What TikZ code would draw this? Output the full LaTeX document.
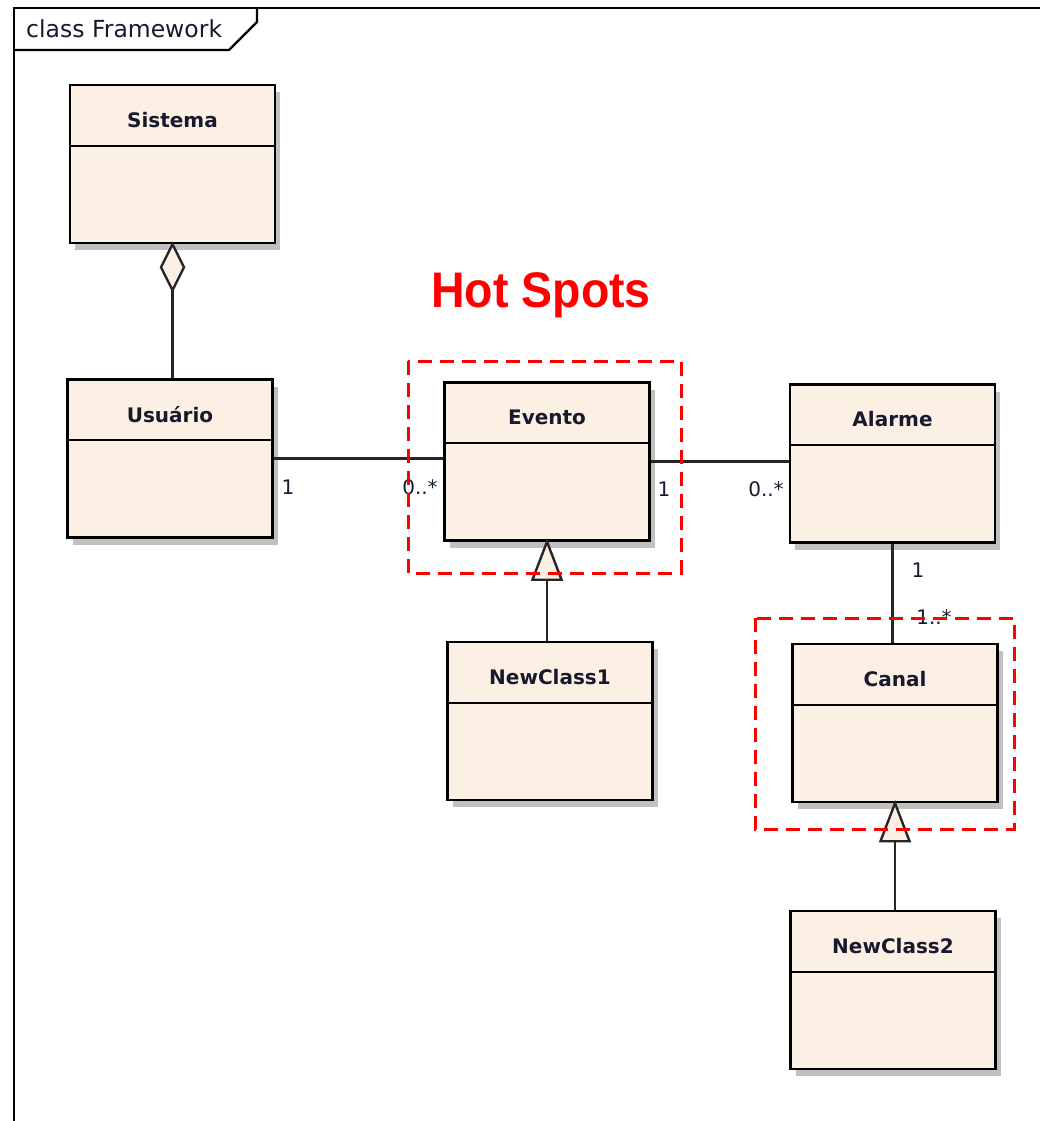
\documentclass[tikz,border=0pt]{standalone}
\usepackage{fontspec}
\setmainfont{DejaVu Sans}
\newfontfamily\hotfont{Liberation Sans}
\usetikzlibrary{calc,shadows}
\definecolor{cream}{RGB}{251,240,227}
\definecolor{shade}{RGB}{192,192,192}
\definecolor{ink}{RGB}{25,25,45}
\definecolor{hot}{RGB}{255,0,0}
\tikzset{
  umlclass/.style={draw=black, line width=2.4pt, fill=cream,
    minimum width=205pt, minimum height=158pt, inner sep=0pt,
    drop shadow={shadow xshift=5pt, shadow yshift=-7pt, fill=shade, opacity=1}},
  classname/.style={font=\fontsize{20}{20}\selectfont\bfseries, text=ink, inner sep=0pt},
  mult/.style={font=\fontsize{20}{20}\selectfont, text=ink, fill=white, inner sep=1pt},
  conn/.style={draw=black!85, line width=2.4pt},
  hotbox/.style={draw=hot, line width=3pt, dash pattern=on 14pt off 8pt},
}
% name, text, centre x, centre y
\newcommand\classbox[4]{%
  \node[umlclass] (#1) at (#3,#4) {};
  \node[classname] (#1-t) at ($(#1.north)+(0,36)$) {#2};
  \draw[line width=2.2pt] ($(#1.north west)+(0,62)$) -- ($(#1.north east)+(0,62)$);
}
\begin{document}
\begin{tikzpicture}[x=1pt, y=-1pt]
\useasboundingbox (0,0) rectangle (1040,1121);
\fill[white] (0,0) rectangle (1040,1121);

% diagram frame with its name tab
\coordinate (fr-tl) at (14,8);
\coordinate (fr-tr) at (1041,8);
\coordinate (fr-bl) at (14,1122);
\draw[line width=2.2pt] (fr-tr) -- (fr-tl) -- (fr-bl);
\draw[line width=2.2pt] (257,8) -- (257,22) -- (229,50) -- (14,50);
\node[anchor=west, font=\fontsize{23.5}{23.5}\selectfont, text=ink, inner sep=0pt] (frame-title) at (26,29) {class Framework};

% classes
\classbox{sis}{Sistema}{172.5}{164}
\classbox{usu}{Usuário}{170}{458.5}
\classbox{eve}{Evento}{547}{461.5}
\classbox{ala}{Alarme}{892.5}{463.5}
\classbox{nc1}{NewClass1}{550}{721}
\classbox{can}{Canal}{895}{723}
\classbox{nc2}{NewClass2}{893}{990}

% aggregation Sistema <>-- Usuário
\draw[conn, fill=cream] (sis.south) -- ++(11.5,23) -- ++(-11.5,23) coordinate (dia-b) -- ++(-11.5,-23) -- cycle;
\draw[conn] (dia-b) -- (dia-b |- usu.north);

% associations
\draw[conn] (usu.east) -- (usu.east -| eve.west);
\node[mult] (m-usu) at (288,487) {1};
\node[mult] (m-eve1) at (420,487) {0..*};

\draw[conn] (eve.east) -- (eve.east -| ala.west);
\node[mult] (m-eve2) at (664,489) {1};
\node[mult] (m-ala1) at (766,489) {0..*};

\draw[conn] (ala.south) -- (ala.south |- can.north);
\node[mult] (m-ala2) at (918,570) {1};
\node[mult, fill=none] (m-can) at (934,617) {1..*};

% generalizations
\draw[conn, fill=cream] (eve.south) -- ++(14.5,38) -- ++(-29,0) coordinate (tri1-l) -- cycle;
\draw[conn] (eve.south |- tri1-l) -- (eve.south |- nc1.north);
\draw[conn, fill=cream] (can.south) -- ++(14.5,38) -- ++(-29,0) coordinate (tri2-l) -- cycle;
\draw[conn] (can.south |- tri2-l) -- (can.south |- nc2.north);

% hot spot markers
\node[font=\hotfont\fontsize{50}{50}\selectfont\bfseries, text=hot, inner sep=0pt] (hot-title) at (541,295) {\scalebox{0.93}[1]{Hot Spots}};
\draw[hotbox] (408,361) rectangle (681,573);
\draw[hotbox] (755,618) rectangle (1014,829);
\end{tikzpicture}
\end{document}
